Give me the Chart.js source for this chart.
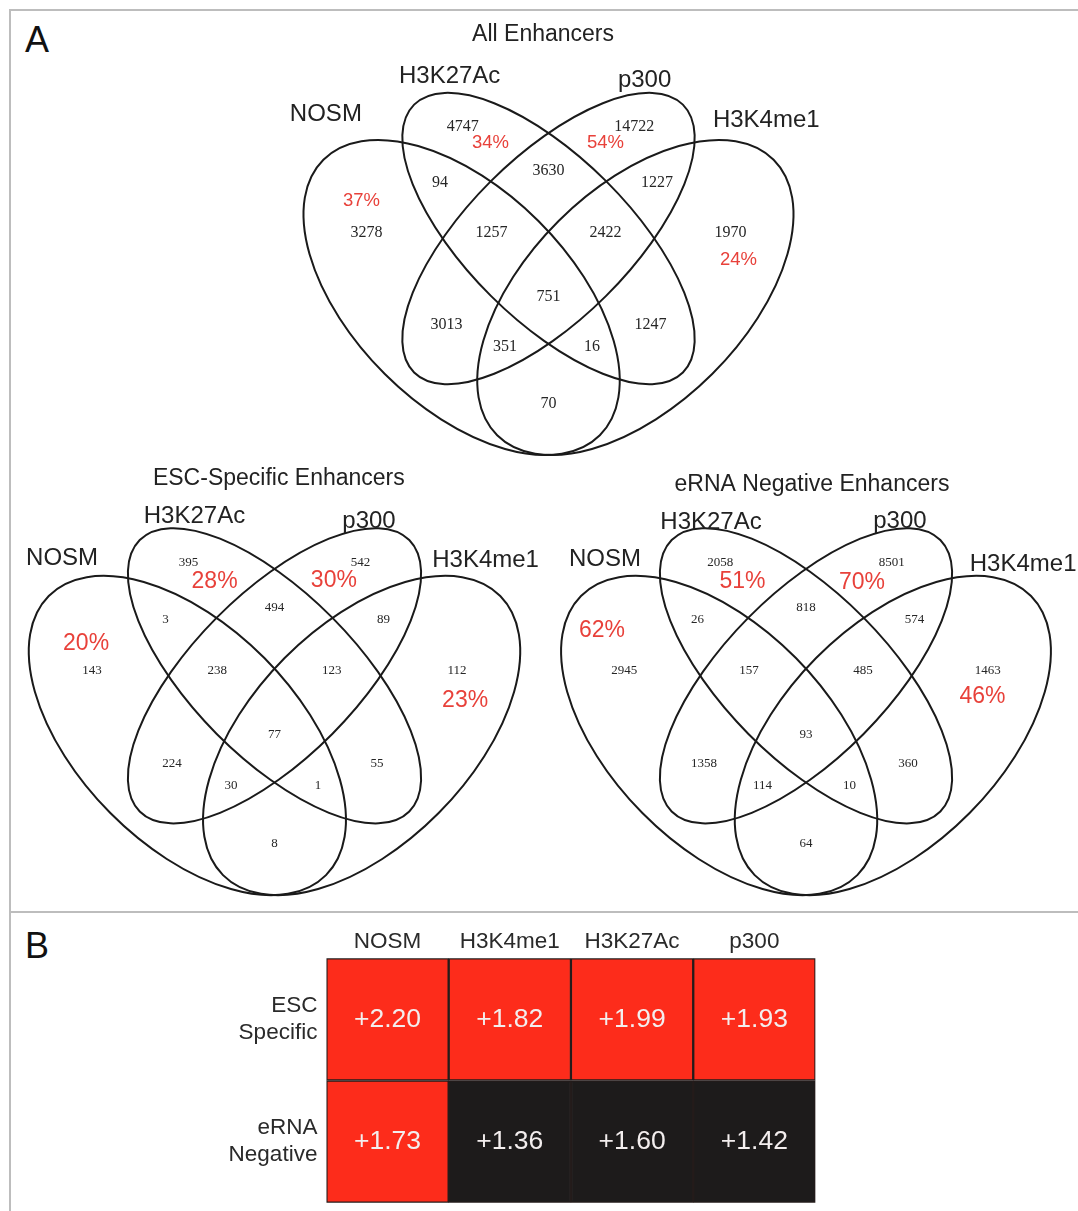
<!DOCTYPE html>
<html>
<head>
<meta charset="utf-8">
<script src="https://cdn.jsdelivr.net/npm/chart.js@4.4.0/dist/chart.umd.min.js"></script>
<style>
  html, body { margin: 0; padding: 0; background: #fff; }
  body { width: 1078px; height: 1211px; position: relative; overflow: hidden;
         font-family: "Liberation Sans", Arial, Helvetica, sans-serif; }
  canvas { position: absolute; }
  .rule { position: absolute; background: #bdbdbd; }
  .panel { position: absolute; font-size: 36px; line-height: 36px; color: #111; }
</style>
</head>
<body>
<div class="rule" style="left:9px;top:9px;width:1069px;height:2px"></div>
<div class="rule" style="left:9px;top:9px;width:2px;height:1202px"></div>
<div class="rule" style="left:9px;top:911px;width:1069px;height:2px"></div>
<div class="panel" style="left:25px;top:22px">A</div>
<div class="panel" style="left:25px;top:928px">B</div>

<canvas id="vennAll"></canvas>
<canvas id="vennEsc"></canvas>
<canvas id="vennErna"></canvas>
<canvas id="heat"></canvas>

<script>
// ---------------------------------------------------------------------------
// Data
// ---------------------------------------------------------------------------
const setNames = ['NOSM', 'H3K27Ac', 'p300', 'H3K4me1'];

// Venn regions (N = NOSM, A = H3K27Ac, P = p300, H = H3K4me1)
const regionKeys = ['N', 'A', 'P', 'H', 'NA', 'AP', 'PH', 'NAP', 'APH', 'NAPH', 'NP', 'AH', 'NPH', 'NAH', 'NH'];

const allCounts  = [3278, 4747, 14722, 1970, 94, 3630, 1227, 1257, 2422, 751, 3013, 1247, 351, 16, 70];
const escCounts  = [143, 395, 542, 112, 3, 494, 89, 238, 123, 77, 224, 55, 30, 1, 8];
const ernaCounts = [2945, 2058, 8501, 1463, 26, 818, 574, 157, 485, 93, 1358, 360, 114, 10, 64];

// percentage per set, same order as setNames
const allPercents  = [37, 34, 54, 24];
const escPercents  = [20, 28, 30, 23];
const ernaPercents = [62, 51, 70, 46];

// Enrichment table
const heatRows = [['ESC', 'Specific'], ['eRNA', 'Negative']];
const heatCols = ['NOSM', 'H3K4me1', 'H3K27Ac', 'p300'];
const escEnrichment  = [2.20, 1.82, 1.99, 1.93];
const ernaEnrichment = [1.73, 1.36, 1.60, 1.42];
const highlightAbove = 1.7;

// ---------------------------------------------------------------------------
// Layout and style
// ---------------------------------------------------------------------------
const SANS  = '"Liberation Sans", Arial, Helvetica, sans-serif';
const SERIF = '"Liberation Serif", "Times New Roman", serif';
const RED   = '#e8413a';
const INK   = '#1a1a1a';

// four-ellipse diagram in unit coordinates (y up), order of setNames
const ellipses = [
  { cx: 0.34, cy: 0.461, a: 0.36, b: 0.20, rot: 135 },
  { cx: 0.50, cy: 0.570, a: 0.35, b: 0.15, rot: 135 },
  { cx: 0.50, cy: 0.570, a: 0.35, b: 0.15, rot: 45 },
  { cx: 0.66, cy: 0.461, a: 0.36, b: 0.20, rot: 45 }
];

// label anchor of each region, order of regionKeys
const regionAnchors = [
  [0.165, 0.580], [0.342, 0.777], [0.658, 0.777], [0.835, 0.580],
  [0.300, 0.673], [0.500, 0.695], [0.700, 0.673],
  [0.395, 0.580], [0.605, 0.580], [0.500, 0.462],
  [0.312, 0.410], [0.688, 0.410], [0.420, 0.370], [0.580, 0.370], [0.500, 0.264]
];

const vennLayouts = {
  all: {
    box: { left: 12, top: 12, width: 1064, height: 462 },
    frame: { x0: 277, sx: 543, y0: 546.9, sy: 541 },
    titleAt: [0.49, 0.9475],
    setLabelAt: [[0.090, 0.800], [0.318, 0.870], [0.677, 0.863], [0.901, 0.788]],
    percentAt: [[0.1556, 0.640], [0.393, 0.746], [0.605, 0.746], [0.850, 0.530]],
    countFont: 16, percentFont: 18.5
  },
  esc: {
    box: { left: 12, top: 462, width: 530, height: 448 },
    frame: { x0: 2.2, sx: 544.6, y0: 988.3, sy: 548.3 },
    titleAt: [0.508, 0.930],
    setLabelAt: [[0.110, 0.784], [0.353, 0.860], [0.6735, 0.851], [0.8876, 0.781]],
    percentAt: [[0.154, 0.629], [0.390, 0.742], [0.609, 0.743], [0.850, 0.525]],
    countFont: 13, percentFont: 23
  },
  erna: {
    box: { left: 542, top: 462, width: 534, height: 448 },
    frame: { x0: 534.6, sx: 542.8, y0: 988.3, sy: 548.3 },
    titleAt: [0.511, 0.918],
    setLabelAt: [[0.1296, 0.782], [0.325, 0.849], [0.673, 0.851], [0.900, 0.774]],
    percentAt: [[0.124, 0.653], [0.383, 0.742], [0.603, 0.740], [0.825, 0.532]],
    countFont: 13, percentFont: 23
  }
};

// ---------------------------------------------------------------------------
// Venn diagrams
// ---------------------------------------------------------------------------
function makeVenn(canvasId, title, counts, percents, layout) {
  const el = document.getElementById(canvasId);
  const { box, frame } = layout;
  el.width = box.width;
  el.height = box.height;
  el.style.left = box.left + 'px';
  el.style.top = box.top + 'px';

  const xMin = (box.left - frame.x0) / frame.sx;
  const xMax = (box.left + box.width - frame.x0) / frame.sx;
  const yMax = (frame.y0 - box.top) / frame.sy;
  const yMin = (frame.y0 - box.top - box.height) / frame.sy;

  const vennDraw = {
    id: 'vennDraw',
    afterDatasetsDraw(chart) {
      const { ctx } = chart;
      const xs = chart.scales.x, ys = chart.scales.y;
      const ox = xs.getPixelForValue(0), oy = ys.getPixelForValue(0);
      const kx = xs.getPixelForValue(1) - ox, ky = ys.getPixelForValue(1) - oy;

      // set outlines
      ctx.save();
      ctx.lineWidth = 2;
      ctx.strokeStyle = INK;
      ellipses.forEach(e => {
        ctx.save();
        ctx.translate(ox, oy);
        ctx.scale(kx, ky);
        ctx.beginPath();
        ctx.ellipse(e.cx, e.cy, e.a, e.b, e.rot * Math.PI / 180, 0, Math.PI * 2);
        ctx.restore();
        ctx.stroke();
      });

      ctx.textAlign = 'center';
      ctx.textBaseline = 'middle';

      // region counts, at the dataset's points
      const meta = chart.getDatasetMeta(0);
      ctx.fillStyle = '#262626';
      ctx.font = layout.countFont + 'px ' + SERIF;
      meta.data.forEach((pt, i) => {
        ctx.fillText(String(counts[i]), pt.x, pt.y);
      });

      // percentages
      ctx.fillStyle = RED;
      ctx.font = layout.percentFont + 'px ' + SANS;
      percents.forEach((p, i) => {
        const [u, v] = layout.percentAt[i];
        ctx.fillText(p + '%', xs.getPixelForValue(u), ys.getPixelForValue(v));
      });

      // set names and title
      ctx.fillStyle = '#222';
      ctx.font = '24px ' + SANS;
      setNames.forEach((name, i) => {
        const [u, v] = layout.setLabelAt[i];
        ctx.fillText(name, xs.getPixelForValue(u), ys.getPixelForValue(v));
      });
      ctx.font = '23px ' + SANS;
      ctx.fillText(title, xs.getPixelForValue(layout.titleAt[0]), ys.getPixelForValue(layout.titleAt[1]));
      ctx.restore();
    }
  };

  return new Chart(el, {
    type: 'scatter',
    data: {
      datasets: [{
        label: title,
        data: regionAnchors.map(([u, v]) => ({ x: u, y: v })),
        pointRadius: 0,
        pointHoverRadius: 0
      }]
    },
    options: {
      responsive: false,
      animation: false,
      events: [],
      layout: { padding: 0 },
      plugins: { legend: { display: false }, tooltip: { enabled: false } },
      scales: {
        x: { type: 'linear', display: false, min: xMin, max: xMax },
        y: { type: 'linear', display: false, min: yMin, max: yMax }
      }
    },
    plugins: [vennDraw]
  });
}

makeVenn('vennAll', 'All Enhancers', allCounts, allPercents, vennLayouts.all);
makeVenn('vennEsc', 'ESC-Specific Enhancers', escCounts, escPercents, vennLayouts.esc);
makeVenn('vennErna', 'eRNA Negative Enhancers', ernaCounts, ernaPercents, vennLayouts.erna);

// ---------------------------------------------------------------------------
// Enrichment table
// ---------------------------------------------------------------------------
(function () {
  const el = document.getElementById('heat');
  el.width = 1078;
  el.height = 297;
  el.style.left = '0px';
  el.style.top = '914px';

  const table = [escEnrichment, ernaEnrichment];
  const cellRed = '#fd2c1b';
  const cellBlack = '#1d1b1b';

  const cellText = {
    id: 'cellText',
    afterDatasetsDraw(chart) {
      const { ctx } = chart;
      ctx.save();
      ctx.fillStyle = '#f3eeee';
      ctx.font = '26.5px ' + SANS;
      ctx.textAlign = 'center';
      ctx.textBaseline = 'middle';
      chart.data.datasets.forEach((ds, j) => {
        chart.getDatasetMeta(j).data.forEach((bar, i) => {
          const v = table[i][j];
          ctx.fillText('+' + v.toFixed(2), (bar.x + bar.base) / 2, bar.y);
        });
      });
      ctx.restore();
    }
  };

  new Chart(el, {
    type: 'bar',
    data: {
      labels: heatRows,
      datasets: heatCols.map((col, j) => ({
        label: col,
        data: table.map(() => 1),           // every cell spans one column
        backgroundColor: table.map(row => row[j] >= highlightAbove ? cellRed : cellBlack),
        borderColor: '#241c1b',
        borderWidth: 1.5,
        borderSkipped: false,
        barPercentage: 1,
        categoryPercentage: 1
      }))
    },
    options: {
      indexAxis: 'y',
      responsive: false,
      animation: false,
      events: [],
      layout: { padding: { left: 0, right: 262.5, top: 0, bottom: 8.3 } },
      plugins: { legend: { display: false }, tooltip: { enabled: false } },
      scales: {
        x: {
          type: 'linear', position: 'top', stacked: true, min: 0, max: 4,
          grid: { display: false, drawTicks: false },
          border: { display: false },
          afterBuildTicks: s => { s.ticks = heatCols.map((_, j) => ({ value: j + 0.5 })); },
          afterFit: s => { s.height = 44.3; s.paddingLeft = 0; s.paddingRight = 0; },
          ticks: {
            padding: 3, color: '#2a2a2a', font: { family: SANS, size: 22.5 },
            autoSkip: false, maxRotation: 0,
            callback: (v, i) => heatCols[i]
          }
        },
        y: {
          type: 'category', stacked: true,
          grid: { display: false, drawTicks: false },
          border: { display: false },
          afterFit: s => { s.width = 326.4; s.paddingTop = 0; s.paddingBottom = 0; },
          ticks: { padding: 9, color: '#2a2a2a', font: { family: SANS, size: 22.5 } }
        }
      }
    },
    plugins: [cellText]
  });
})();
</script>
</body>
</html>
